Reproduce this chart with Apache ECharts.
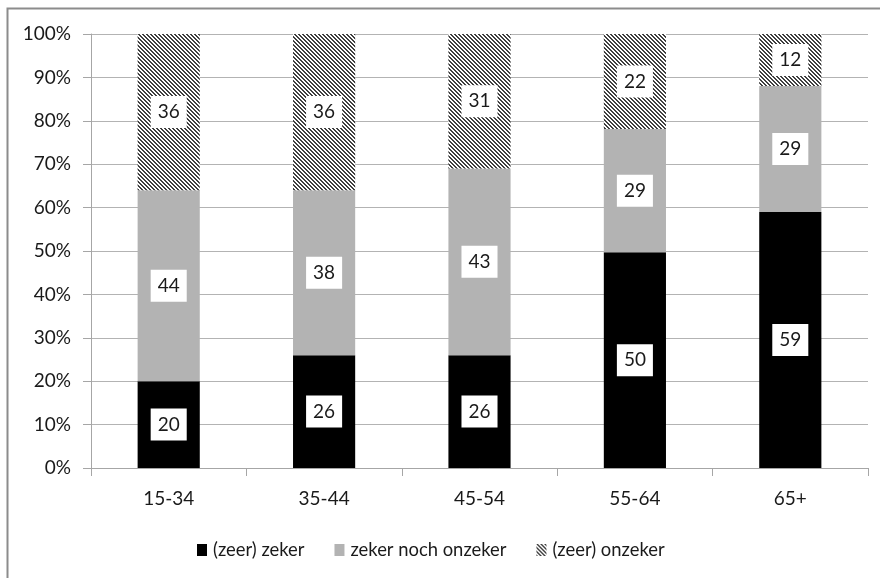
<!DOCTYPE html>
<html>
<head>
<meta charset="utf-8">
<script src="https://cdn.jsdelivr.net/npm/echarts@6/dist/echarts.min.js"></script>
<style>
html,body{margin:0;padding:0;background:#fff;}
#c{width:880px;height:578px;}
</style>
</head>
<body>
<div id="c"></div>
<script>
var categories = ['15-34', '35-44', '45-54', '55-64', '65+'];
var seriesNames = ['(zeer) zeker', 'zeker noch onzeker', '(zeer) onzeker'];
// shares of each bar (percent), as drawn
var zeker = [20, 26, 26, 49.7, 59];
var neutraal = [44, 38, 43, 28.4, 29];
var onzeker = [36, 36, 31, 21.9, 12];
// label texts as printed in the chart
var zekerLabels = [20, 26, 26, 50, 59];
var neutraalLabels = [44, 38, 43, 29, 29];
var onzekerLabels = [36, 36, 31, 22, 12];
var yTicks = [0, 10, 20, 30, 40, 50, 60, 70, 80, 90, 100];

function hatch() {
  var c = document.createElement('canvas');
  c.width = 4; c.height = 4;
  var ctx = c.getContext('2d');
  ctx.fillStyle = '#ffffff';
  ctx.fillRect(0, 0, 4, 4);
  ctx.fillStyle = '#404040';
  for (var y = 0; y < 4; y++) {
    ctx.fillRect(y, y, 1, 1);
    ctx.fillRect((y + 1) % 4, y, 1, 1);
  }
  return {image: c, repeat: 'repeat'};
}

var FONT = 'Lato';
var chart = echarts.init(document.getElementById('c'), null, {renderer: 'canvas'});

function mkSeries(name, vals, labels, color) {
  return {
    name: name,
    type: 'bar',
    stack: 'total',
    barWidth: '40%',
    data: vals,
    itemStyle: {color: color},
    label: {
      show: true,
      position: 'inside',
      formatter: function (p) { return String(labels[p.dataIndex]); },
      backgroundColor: '#ffffff',
      color: '#1a1a1a',
      fontFamily: FONT,
      fontSize: 19,
      padding: [7, 7, 6, 7]
    }
  };
}

chart.setOption({
  animation: false,
  backgroundColor: '#ffffff',
  graphic: [{
    type: 'polyline',
    shape: {points: [[7.5, 578], [7.5, 8.5], [880, 8.5]]},
    style: {stroke: '#8c8c8c', lineWidth: 2, fill: null}
  }],
  grid: {left: 91, right: 12, top: 34, bottom: 110, containLabel: false},
  legend: {
    left: 192,
    top: 536,
    itemWidth: 10,
    itemHeight: 12,
    itemGap: 30,
    icon: 'rect',
    textStyle: {fontFamily: FONT, fontSize: 18.4, color: '#1a1a1a', padding: [0, 0, 0, 1]},
    data: seriesNames
  },
  xAxis: {
    type: 'category',
    data: categories,
    axisLine: {lineStyle: {color: '#a6a6a6', width: 1}},
    axisTick: {show: true, length: 8, lineStyle: {color: '#a6a6a6'}},
    axisLabel: {fontFamily: FONT, fontSize: 19, color: '#1a1a1a', margin: 21}
  },
  yAxis: {
    type: 'value',
    min: yTicks[0],
    max: yTicks[yTicks.length - 1],
    interval: 10,
    axisLine: {show: true, lineStyle: {color: '#a6a6a6', width: 1}},
    axisTick: {show: true, length: 8, lineStyle: {color: '#a6a6a6'}},
    splitLine: {lineStyle: {color: '#b3b3b3', width: 1}},
    axisLabel: {fontFamily: FONT, fontSize: 19, color: '#1a1a1a', margin: 20, formatter: '{value}%'}
  },
  series: [
    mkSeries(seriesNames[0], zeker, zekerLabels, '#000000'),
    mkSeries(seriesNames[1], neutraal, neutraalLabels, '#b3b3b3'),
    mkSeries(seriesNames[2], onzeker, onzekerLabels, hatch())
  ]
});
</script>
</body>
</html>
